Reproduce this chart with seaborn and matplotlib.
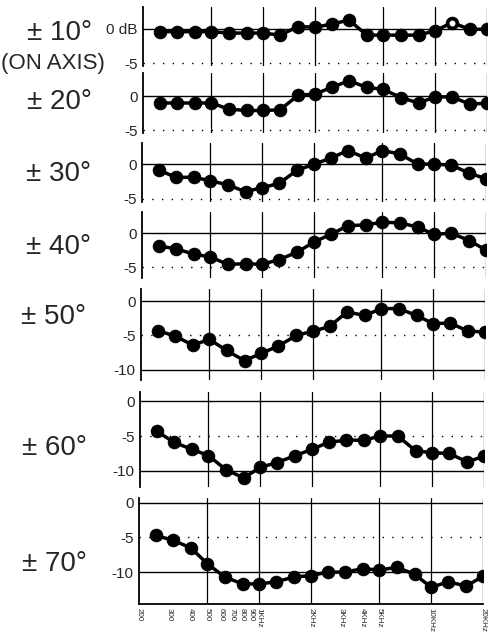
import numpy as np
import pandas as pd
import matplotlib
matplotlib.use("Agg")
import matplotlib.pyplot as plt
import seaborn as sns

# third-octave centre frequencies (Hz)
freqs = [250, 315, 400, 500, 630, 800, 1000, 1250, 1600, 2000,
         2500, 3150, 4000, 5000, 6300, 8000, 10000, 12500, 16000, 20000]

# relative response (dB) per off-axis angle
resp_10 = [-0.4, -0.4, -0.4, -0.4, -0.6, -0.6, -0.6, -0.9, 0.35, 0.25,
           0.7, 1.3, -0.9, -0.9, -0.9, -0.9, -0.25, 0.9, -0.05, -0.05]
resp_20 = [-1.0, -1.0, -1.0, -1.0, -1.9, -2.1, -2.1, -2.0, 0.15, 0.3,
           1.3, 2.25, 1.3, 1.0, -0.2, -1.0, -0.1, -0.1, -1.2, -1.0]
resp_30 = [-0.85, -1.9, -1.9, -2.4, -3.0, -4.0, -3.4, -2.8, -0.85, 0.0,
           0.9, 2.0, 0.9, 2.0, 1.5, 0.05, 0.0, -0.1, -1.3, -2.1]
resp_40 = [-1.9, -2.3, -3.1, -3.5, -4.6, -4.5, -4.6, -3.9, -2.8, -1.3,
           -0.2, 1.1, 1.2, 1.6, 1.5, 0.9, -0.2, 0.0, -1.1, -2.5]
resp_50 = [-4.3, -5.1, -6.4, -5.6, -7.2, -8.7, -7.6, -6.6, -5.0, -4.4,
           -3.7, -1.6, -2.1, -1.1, -1.1, -2.1, -3.3, -3.2, -4.4, -4.5]
resp_60 = [-4.3, -5.9, -6.9, -7.8, -9.8, -11.0, -9.5, -8.8, -7.8, -6.9,
           -5.9, -5.6, -5.6, -5.0, -5.0, -7.1, -7.4, -7.5, -8.7, -7.9]
resp_70 = [-4.7, -5.4, -6.5, -8.8, -10.7, -11.7, -11.7, -11.4, -10.7, -10.5,
           -10.0, -10.0, -9.5, -9.7, -9.3, -10.3, -12.2, -11.4, -12.0, -10.6]

angle_labels = ["± 10°", "± 20°", "± 30°", "± 40°", "± 50°", "± 60°", "± 70°"]
responses = [resp_10, resp_20, resp_30, resp_40, resp_50, resp_60, resp_70]

# hollow marker in the on-axis panel
hollow_10 = [12500]

xtick_freqs = [200, 300, 400, 500, 600, 700, 800, 900, 1000,
               2000, 3000, 4000, 5000, 10000, 20000]
xtick_labels = ["200", "300", "400", "500", "600", "700", "800", "900", "1KHz",
                "2KHz", "3KHz", "4KHz", "5KHz", "10KHz", "20KHz"]
grid_freqs = [500, 1000, 2000, 5000, 10000, 20000]

sns.set_style("white")
plt.rcParams["font.family"] = ["Liberation Sans", "DejaVu Sans"]

W, H = 489, 636
fig = plt.figure(figsize=(W / 100, H / 100), dpi=100)

# panel layout in pixels: left, top, bottom, ymin, ymax
panels = [
    (143, 7, 66, -5.4, 3.2),
    (143, 73, 133, -5.4, 3.4),
    (142, 143, 202, -5.5, 3.1),
    (142, 212, 278, -6.6, 3.1),
    (141, 289, 380, -11.5, 1.75),
    (140, 392, 487, -12.3, 1.3),
    (139, 498, 604, -14.6, 0.7),
]
label_pos = [(27, 33), (27, 102), (26, 174), (26, 247), (21, 317), (22, 448), (22, 564)]

for i, (left, top, bottom, ymin, ymax) in enumerate(panels):
    ax = fig.add_axes([left / W, 1 - bottom / H, 344 / W, (bottom - top) / H])
    df = pd.DataFrame({"freq": freqs, "db": responses[i]})
    ax.set_xscale("log")
    for f in grid_freqs:
        ax.axvline(f, color="black", lw=0.9, zorder=1)
    ax.axhline(0, color="black", lw=1.0, zorder=1)
    ax.axhline(-5, color="black", lw=1.0, ls=(0, (1, 6)), zorder=1)
    if ymin < -10:
        ax.axhline(-10, color="black", lw=1.0, zorder=1)
    sns.lineplot(data=df, x="freq", y="db", ax=ax, color="black", lw=2.5,
                 marker="o", markersize=9, markeredgecolor="black",
                 estimator=None, errorbar=None, zorder=3)
    if i == 0:
        hol = df[df["freq"].isin(hollow_10)]
        sns.scatterplot(data=hol, x="freq", y="db", ax=ax, s=40,
                        color="white", edgecolor="black", linewidth=2, zorder=4)
    ax.set_xlim(200, 20000)
    ax.set_ylim(ymin, ymax)
    ax.set_xlabel("")
    ax.set_ylabel("")
    for s in ["top", "right", "bottom"]:
        ax.spines[s].set_visible(False)
    ax.spines["left"].set_color("black")
    ax.spines["left"].set_linewidth(1.3)
    yt = [0, -5] if ymin > -10 else [0, -5, -10]
    ax.set_yticks(yt)
    ylab = [str(v) for v in yt]
    if i == 0:
        ylab[0] = "0 dB"
    ax.set_yticklabels(ylab, fontsize=11)
    ax.tick_params(axis="y", length=0, pad=4)
    ax.minorticks_off()
    if i == len(panels) - 1:
        ax.spines["bottom"].set_visible(True)
        ax.spines["bottom"].set_color("black")
        ax.spines["bottom"].set_linewidth(1.3)
        ax.set_xticks(xtick_freqs)
        ax.set_xticklabels(xtick_labels, rotation=-90, fontsize=5.8, va="top", ha="center")
        ax.tick_params(axis="x", length=1, pad=2)
    else:
        ax.set_xticks([])

    lx, ly = label_pos[i]
    fig.text(lx / W, 1 - ly / H, angle_labels[i], fontsize=20,
             ha="left", va="center")

fig.text(1 / W, 1 - 64 / H, "(ON AXIS)", fontsize=16, ha="left", va="center")

fig.savefig("out.png", dpi=100, facecolor="white")
